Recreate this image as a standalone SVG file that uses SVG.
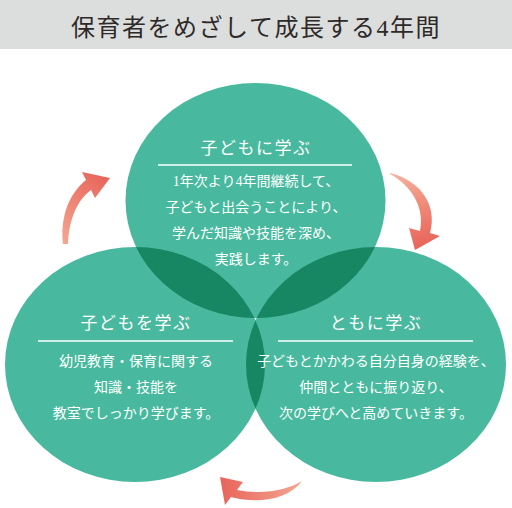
<svg xmlns="http://www.w3.org/2000/svg" width="512" height="508" viewBox="0 0 512 508">
<style>
.c{fill:#48b99e}
.o{fill:#168762}
.t{font-family:"Liberation Serif","Noto Sans CJK JP",serif;fill:#ffffff;text-anchor:middle}
.h{font-size:17px;letter-spacing:1.5px}
.b{font-size:14px}
.ln{stroke:#ffffff;stroke-width:1.5}
</style>
<defs>
<clipPath id="cT"><ellipse cx="255.5" cy="200.5" rx="130" ry="117.5"/></clipPath>
<clipPath id="cL"><ellipse cx="135" cy="364.5" rx="130" ry="117.5"/></clipPath>
<linearGradient id="g1" x1="65" y1="244" x2="110" y2="178" gradientUnits="userSpaceOnUse"><stop offset="0" stop-color="#f4a692"/><stop offset="1" stop-color="#e8645a"/></linearGradient>
<linearGradient id="g2" x1="390" y1="173" x2="415" y2="250" gradientUnits="userSpaceOnUse"><stop offset="0" stop-color="#f6b4a2"/><stop offset="0.5" stop-color="#ef8a78"/><stop offset="1" stop-color="#e8645a"/></linearGradient>
<linearGradient id="g3" x1="302" y1="481" x2="220" y2="480" gradientUnits="userSpaceOnUse"><stop offset="0" stop-color="#f4a692"/><stop offset="1" stop-color="#e8645a"/></linearGradient>
</defs>
<rect x="0" y="0" width="512" height="508" fill="#ffffff"/>
<rect x="0" y="0" width="512" height="49" fill="#dcdddd"/>
<text x="256" y="36" font-family="'Liberation Serif','Noto Sans CJK JP',serif" font-size="24" letter-spacing="1.5" fill="#2e2a29" text-anchor="middle">保育者をめざして成長する4年間</text>
<g id="node-top"><ellipse class="c" cx="255.5" cy="200.5" rx="130" ry="117.5"/></g>
<g id="node-left"><ellipse class="c" cx="135" cy="364.5" rx="130" ry="117.5"/></g>
<g id="node-right"><ellipse class="c" cx="376" cy="364.5" rx="130" ry="117.5"/></g>
<g id="overlaps">
<g clip-path="url(#cT)"><ellipse class="o" cx="135" cy="364.5" rx="130" ry="117.5"/><ellipse class="o" cx="376" cy="364.5" rx="130" ry="117.5"/></g>
<g clip-path="url(#cL)"><ellipse class="o" cx="376" cy="364.5" rx="130" ry="117.5"/></g>
</g>
<g id="label-top">
<text class="t h" x="256" y="154">子どもに学ぶ</text>
<line class="ln" x1="158" y1="165" x2="352" y2="165"/>
<text class="t b" x="256" y="186">1年次より4年間継続して、</text>
<text class="t b" x="256" y="212">子どもと出会うことにより、</text>
<text class="t b" x="256" y="238">学んだ知識や技能を深め、</text>
<text class="t b" x="256" y="264">実践します。</text>
</g>
<g id="label-left">
<text class="t h" x="136" y="329">子どもを学ぶ</text>
<line class="ln" x1="38" y1="341" x2="233" y2="341"/>
<text class="t b" x="136" y="366">幼児教育・保育に関する</text>
<text class="t b" x="136" y="392">知識・技能を</text>
<text class="t b" x="136" y="418">教室でしっかり学びます。</text>
</g>
<g id="label-right">
<text class="t h" x="376" y="329">ともに学ぶ</text>
<line class="ln" x1="278" y1="341" x2="473" y2="341"/>
<text class="t b" x="376" y="366">子どもとかかわる自分自身の経験を、</text>
<text class="t b" x="376" y="392">仲間とともに振り返り、</text>
<text class="t b" x="376" y="418">次の学びへと高めていきます。</text>
</g>
<g id="connectors">
<path fill="url(#g1)" d="M 63 244 C 60 215, 70 193, 86 180 L 82 172 L 110 178 L 95 198 L 91 190 C 77 200, 69 220, 68 244 Z"/>
<path fill="url(#g2)" d="M 390 173 C 420 180, 438 205, 430 233 L 440 236 L 415 250 L 409 228 L 420 231 C 425 208, 412 186, 390 174 Z"/>
<path fill="url(#g3)" d="M 302 481 C 288 500, 258 504, 231 497 L 225 505 L 220 477 L 243 482 L 237 490 C 262 495, 288 490, 302 481 Z"/>
</g>
</svg>
